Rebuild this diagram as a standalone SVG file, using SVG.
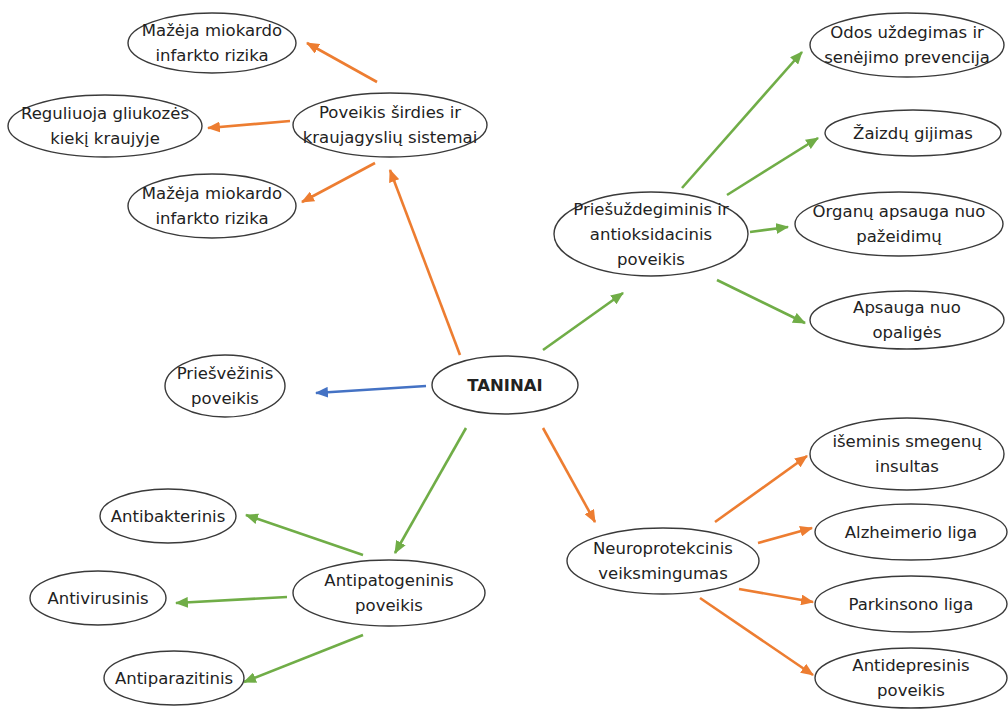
<svg xmlns="http://www.w3.org/2000/svg" width="1008" height="710" viewBox="0 0 1008 710">
<defs>
<style>
.n ellipse{fill:#fff;stroke:#3a3a3a;stroke-width:1.4}
.n text{font-family:"DejaVu Sans","Open Sans",sans-serif;font-size:16.5px;fill:#222;text-anchor:middle}
.c line{stroke-width:2.6;fill:none}
.o{stroke:#ED7D31}
.g{stroke:#70AD47}
.b{stroke:#4472C4}
</style>
<marker id="ao" viewBox="0 0 12 10" refX="11" refY="5" markerWidth="13" markerHeight="11" markerUnits="userSpaceOnUse" orient="auto"><path d="M0,0 L12,5 L0,10 Z" fill="#ED7D31"/></marker>
<marker id="ag" viewBox="0 0 12 10" refX="11" refY="5" markerWidth="13" markerHeight="11" markerUnits="userSpaceOnUse" orient="auto"><path d="M0,0 L12,5 L0,10 Z" fill="#70AD47"/></marker>
<marker id="ab" viewBox="0 0 12 10" refX="11" refY="5" markerWidth="13" markerHeight="11" markerUnits="userSpaceOnUse" orient="auto"><path d="M0,0 L12,5 L0,10 Z" fill="#4472C4"/></marker>
</defs>
<rect width="1008" height="710" fill="#fff"/>
<g id="connectors" class="c">
<line class="o" x1="377" y1="82" x2="307" y2="43" marker-end="url(#ao)"/>
<line class="o" x1="290" y1="121" x2="208" y2="128" marker-end="url(#ao)"/>
<line class="o" x1="375" y1="163" x2="302" y2="202" marker-end="url(#ao)"/>
<line class="o" x1="460" y1="355" x2="390" y2="170" marker-end="url(#ao)"/>
<line class="g" x1="543" y1="350" x2="623" y2="293" marker-end="url(#ag)"/>
<line class="g" x1="682" y1="188" x2="802" y2="52" marker-end="url(#ag)"/>
<line class="g" x1="727" y1="195" x2="818" y2="138" marker-end="url(#ag)"/>
<line class="g" x1="750" y1="232" x2="788" y2="227" marker-end="url(#ag)"/>
<line class="g" x1="717" y1="280" x2="805" y2="323" marker-end="url(#ag)"/>
<line class="b" x1="426" y1="386" x2="316" y2="393" marker-end="url(#ab)"/>
<line class="g" x1="466" y1="428" x2="395" y2="553" marker-end="url(#ag)"/>
<line class="g" x1="363" y1="555" x2="246" y2="515" marker-end="url(#ag)"/>
<line class="g" x1="287" y1="597" x2="176" y2="603" marker-end="url(#ag)"/>
<line class="g" x1="363" y1="635" x2="244" y2="682" marker-end="url(#ag)"/>
<line class="o" x1="543" y1="428" x2="595" y2="522" marker-end="url(#ao)"/>
<line class="o" x1="715" y1="522" x2="807" y2="456" marker-end="url(#ao)"/>
<line class="o" x1="758" y1="543" x2="812" y2="528" marker-end="url(#ao)"/>
<line class="o" x1="739" y1="589" x2="813" y2="602" marker-end="url(#ao)"/>
<line class="o" x1="700" y1="598" x2="813" y2="675" marker-end="url(#ao)"/>
</g>
<g id="n-mi1" class="n"><ellipse cx="212" cy="43" rx="84" ry="30"/><text x="212" y="36">Mažėja miokardo</text><text x="212" y="61">infarkto rizika</text></g>
<g id="n-gliu" class="n"><ellipse cx="105" cy="126" rx="97" ry="31"/><text x="105" y="119">Reguliuoja gliukozės</text><text x="105" y="144">kiekį kraujyje</text></g>
<g id="n-sird" class="n"><ellipse cx="390" cy="125" rx="97" ry="32"/><text x="390" y="118">Poveikis širdies ir</text><text x="390" y="143">kraujagyslių sistemai</text></g>
<g id="n-mi2" class="n"><ellipse cx="212" cy="206" rx="84" ry="32"/><text x="212" y="199">Mažėja miokardo</text><text x="212" y="224">infarkto rizika</text></g>
<g id="n-odos" class="n"><ellipse cx="907" cy="45" rx="97" ry="32"/><text x="907" y="38">Odos uždegimas ir</text><text x="907" y="63">senėjimo prevencija</text></g>
<g id="n-zaiz" class="n"><ellipse cx="913" cy="133" rx="88" ry="23"/><text x="913" y="139">Žaizdų gijimas</text></g>
<g id="n-orga" class="n"><ellipse cx="899" cy="224" rx="104" ry="32"/><text x="899" y="217">Organų apsauga nuo</text><text x="899" y="242">pažeidimų</text></g>
<g id="n-opal" class="n"><ellipse cx="907" cy="320" rx="97" ry="29"/><text x="907" y="313">Apsauga nuo</text><text x="907" y="338">opaligės</text></g>
<g id="n-prie" class="n"><ellipse cx="651" cy="234" rx="97" ry="42"/><text x="651" y="215">Priešuždegiminis ir</text><text x="651" y="240">antioksidacinis</text><text x="651" y="265">poveikis</text></g>
<g id="n-tan" class="n"><ellipse cx="505" cy="385" rx="73" ry="29"/><text x="505" y="391" font-weight="bold">TANINAI</text></g>
<g id="n-vez" class="n"><ellipse cx="225" cy="386" rx="60" ry="31"/><text x="225" y="379">Priešvėžinis</text><text x="225" y="404">poveikis</text></g>
<g id="n-pato" class="n"><ellipse cx="389" cy="593" rx="96" ry="33"/><text x="389" y="586">Antipatogeninis</text><text x="389" y="611">poveikis</text></g>
<g id="n-bakt" class="n"><ellipse cx="168" cy="516" rx="68" ry="27"/><text x="168" y="522">Antibakterinis</text></g>
<g id="n-vir" class="n"><ellipse cx="98" cy="598" rx="68" ry="27"/><text x="98" y="604">Antivirusinis</text></g>
<g id="n-par" class="n"><ellipse cx="174" cy="678" rx="70" ry="27"/><text x="174" y="684">Antiparazitinis</text></g>
<g id="n-neur" class="n"><ellipse cx="663" cy="561" rx="96" ry="33"/><text x="663" y="554">Neuroprotekcinis</text><text x="663" y="579">veiksmingumas</text></g>
<g id="n-ise" class="n"><ellipse cx="907" cy="454" rx="97" ry="36"/><text x="907" y="447">išeminis smegenų</text><text x="907" y="472">insultas</text></g>
<g id="n-alz" class="n"><ellipse cx="911" cy="532" rx="96" ry="28"/><text x="911" y="538">Alzheimerio liga</text></g>
<g id="n-park" class="n"><ellipse cx="911" cy="604" rx="96" ry="28"/><text x="911" y="610">Parkinsono liga</text></g>
<g id="n-dep" class="n"><ellipse cx="911" cy="678" rx="96" ry="30"/><text x="911" y="671">Antidepresinis</text><text x="911" y="696">poveikis</text></g>
</svg>
